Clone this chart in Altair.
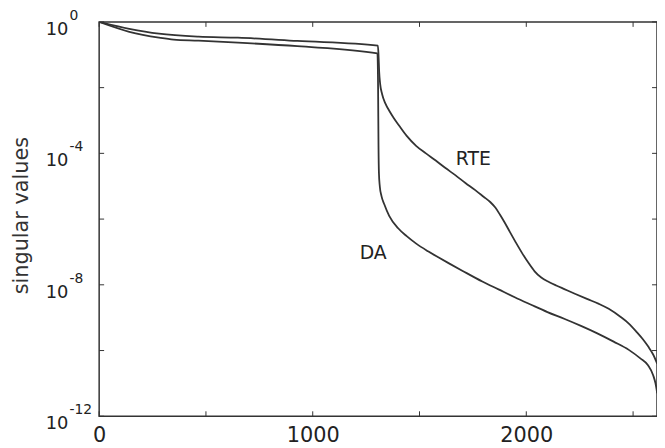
import altair as alt
import pandas as pd

# ---- data (x index, log10 of singular value) ----
x_da = [0, 141, 280, 349, 465, 650, 928, 1303, 1306, 1308, 1310, 1314, 1322, 1335,
        1358, 1400, 1440, 1483, 1540, 1590, 1636, 1700, 1794, 1870, 1946, 2020, 2099,
        2180, 2256, 2330, 2409, 2480, 2534, 2570, 2594, 2605, 2613]
e_da = [0, -0.30, -0.48, -0.54, -0.57, -0.63, -0.74, -0.96, -2.0, -3.8, -4.6, -5.0,
        -5.3, -5.55, -5.9, -6.28, -6.52, -6.74, -6.98, -7.17, -7.34, -7.57, -7.90, -8.14,
        -8.38, -8.60, -8.83, -9.04, -9.25, -9.47, -9.73, -9.98, -10.24, -10.45, -10.75,
        -11.0, -11.3]

x_rte = [0, 141, 280, 465, 650, 928, 1305, 1308, 1311, 1316, 1325, 1340, 1359, 1380,
         1405, 1440, 1484, 1530, 1576, 1620, 1669, 1715, 1761, 1800, 1831, 1855, 1877,
         1900, 1923, 1950, 1979, 2010, 2039, 2070, 2108, 2140, 2178, 2230, 2284, 2340,
         2386, 2442, 2480, 2516, 2545, 2571, 2594, 2613]
e_rte = [0, -0.21, -0.36, -0.45, -0.48, -0.58, -0.72, -1.0, -1.5, -1.9, -2.2, -2.48,
         -2.71, -2.93, -3.16, -3.47, -3.77, -4.0, -4.22, -4.44, -4.67, -4.9, -5.12,
         -5.32, -5.48, -5.65, -5.87, -6.12, -6.39, -6.7, -7.02, -7.33, -7.59, -7.78,
         -7.92, -8.02, -8.13, -8.28, -8.43, -8.58, -8.73, -8.98, -9.18, -9.43, -9.65,
         -9.88, -10.12, -10.4]

x_tick_values = [0, 500, 1000, 1500, 2000, 2500]
x_label_values = [0, 1000, 2000]
y_tick_exps = [0, -2, -4, -6, -8, -10, -12]
y_label_exps = [0, -4, -8, -12]

series_names = ["RTE", "DA"]
series_label_x = [1752, 1283]
series_label_e = [-4.16, -7.02]

X_MAX = 2612
W, H = 563, 398
INK = "#333333"
FONT = "DejaVu Sans"

rows = [{"x": x, "y": 10.0 ** e, "series": "DA"} for x, e in zip(x_da, e_da)]
rows += [{"x": x, "y": 10.0 ** e, "series": "RTE"} for x, e in zip(x_rte, e_rte)]
df = pd.DataFrame(rows)

xs = alt.Scale(domain=[0, X_MAX], nice=False, zero=False)
ys = alt.Scale(type="log", domain=[1e-12, 1], nice=False)

lines = alt.Chart(df).mark_line(
    interpolate="monotone", color=INK, strokeWidth=1.8, clip=True
).encode(
    x=alt.X("x:Q", scale=xs, axis=alt.Axis(
        values=x_label_values, ticks=False, domain=False, grid=False,
        labelFontSize=21, labelFont=FONT, labelColor="#222222", labelPadding=8,
        labelFlush=False, labelOverlap=False, format="d", title=None)),
    y=alt.Y("y:Q", scale=ys, axis=alt.Axis(
        labels=False, ticks=False, domain=False, grid=False,
        title="singular values", titleFont=FONT, titleFontSize=21,
        titleFontWeight="normal", titleColor=INK, titleX=-78, titleY=H / 2 - 4,
        titleAngle=270, titleAlign="center", titleBaseline="middle")),
    detail="series:N",
)

xt = pd.DataFrame({"x": x_tick_values})
yt = pd.DataFrame({"y": [10.0 ** e for e in y_tick_exps]})

tick_style = dict(color=INK, strokeWidth=1)
bottom_ticks = alt.Chart(xt).mark_rule(**tick_style).encode(
    x=alt.X("x:Q", scale=xs), y=alt.value(H), y2=alt.value(H - 5))
top_ticks = alt.Chart(xt).mark_rule(**tick_style).encode(
    x=alt.X("x:Q", scale=xs), y=alt.value(0), y2=alt.value(5))
left_ticks = alt.Chart(yt).mark_rule(**tick_style).encode(
    y=alt.Y("y:Q", scale=ys), x=alt.value(0), x2=alt.value(5))
right_ticks = alt.Chart(yt).mark_rule(**tick_style).encode(
    y=alt.Y("y:Q", scale=ys), x=alt.value(W), x2=alt.value(W - 5))

yl = pd.DataFrame({"y": [10.0 ** e for e in y_label_exps],
                   "exp": [str(e) for e in y_label_exps]})
base_ten = alt.Chart(yl).mark_text(
    text="10", align="right", baseline="middle", dx=-31, dy=8,
    fontSize=18, font=FONT, color="#222222"
).encode(y=alt.Y("y:Q", scale=ys), x=alt.value(0))
exponents = alt.Chart(yl).mark_text(
    align="left", baseline="middle", dx=-30, dy=-6,
    fontSize=14, font=FONT, color="#222222"
).encode(y=alt.Y("y:Q", scale=ys), x=alt.value(0), text="exp:N")

sl = pd.DataFrame({"x": series_label_x,
                   "y": [10.0 ** e for e in series_label_e],
                   "name": series_names})
series_text = alt.Chart(sl).mark_text(
    align="center", baseline="middle", fontSize=19, font=FONT, color="#222222"
).encode(x=alt.X("x:Q", scale=xs), y=alt.Y("y:Q", scale=ys), text="name:N")

chart = alt.layer(
    lines, bottom_ticks, top_ticks, left_ticks, right_ticks,
    base_ten, exponents, series_text
).properties(
    width=W, height=H,
    padding={"left": 92, "top": 12, "right": 0, "bottom": 30},
    autosize=alt.AutoSizeParams(type="none"),
).configure_view(stroke=INK, strokeWidth=1.5)

chart.save("out.html", embed_options={"renderer": "svg", "actions": False})
